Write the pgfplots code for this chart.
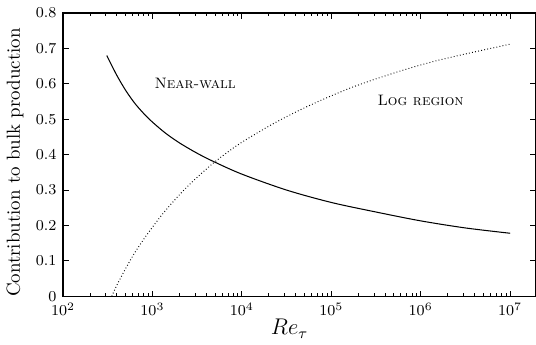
\documentclass[border=0pt]{standalone}
\usepackage{pgfplots}
\pgfplotsset{compat=1.18}
\begin{document}
\begin{tikzpicture}
\begin{axis}[
  scale only axis,
  width=250pt, height=149.7pt,
  xmode=log,
  xmin=100, xmax=1.95e7,
  ymin=0, ymax=0.8,
  ytick={0,0.1,...,0.8},
  yticklabels={0,0.1,0.2,0.3,0.4,0.5,0.6,0.7,0.8},
  xtick={1e2,1e3,1e4,1e5,1e6,1e7},
  tick align=inside,
  major tick length=3pt,
  minor tick length=1.6pt,
  tick style={black, line width=0.4pt},
  axis line style={line width=0.6pt},
  ticklabel style={font=\footnotesize},
  ylabel={Contribution to bulk production},
  ylabel style={font=\normalsize, anchor=center, inner sep=0pt, at={(axis description cs:-0.1016,0.472)}},
  xlabel={$Re_\tau$},
  xlabel style={font=\large, anchor=center, inner sep=0pt, at={(axis description cs:0.479,-0.115)}},
  clip=false,
]
\addplot[black, line width=0.55pt, smooth] coordinates {
(309,0.68) (398,0.625) (501,0.582) (631,0.546) (794,0.517) (1000,0.492)
(1413,0.46) (2042,0.432) (3162,0.404) (4786,0.381) (1e4,0.345)
(31623,0.30) (1e5,0.265) (316228,0.238) (1e6,0.213) (3162278,0.193) (1e7,0.178)
};
\addplot[black, line width=0.5pt, dash pattern=on 0.45pt off 1.2pt, smooth] coordinates {
(351,0) (398,0.03) (501,0.078) (631,0.122) (794,0.16) (1000,0.195)
(1259,0.228) (1585,0.258) (1995,0.286) (2512,0.312) (3162,0.336)
(4786,0.376) (6761,0.405) (1e4,0.435) (20893,0.483) (39811,0.52)
(75858,0.553) (162181,0.588) (316228,0.614) (769130,0.645)
(1659587,0.668) (3981072,0.69) (1e7,0.712)
};
\node[font=\footnotesize] at (axis cs:3000,0.602) {\textsc{Near-wall}};
\node[font=\footnotesize] at (axis cs:1e6,0.553) {\textsc{Log region}};
\coordinate (sw) at (rel axis cs:0,0);
\coordinate (ne) at (rel axis cs:1,1);
\end{axis}
\pgfresetboundingbox
\path[use as bounding box] ([xshift=-33.3pt,yshift=-25.4pt]sw) rectangle ([yshift=6.9pt]ne);
\end{tikzpicture}
\end{document}
